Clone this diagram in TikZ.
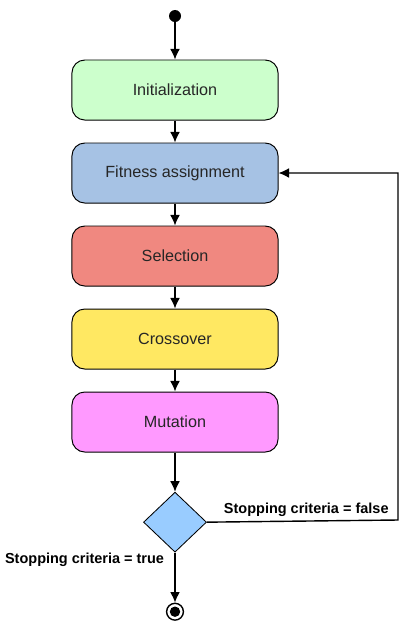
\documentclass[tikz,border=0pt]{standalone}
\usepackage{fontspec}
\setmainfont{Liberation Sans}
\usepackage{tikz}
\usetikzlibrary{positioning,shapes.geometric,arrows.meta}

\definecolor{initcol}{HTML}{CCFFCC}
\definecolor{fitcol}{HTML}{A6C2E4}
\definecolor{selcol}{HTML}{F08880}
\definecolor{crosscol}{HTML}{FFE862}
\definecolor{mutcol}{HTML}{FF99FF}
\definecolor{deccol}{HTML}{99CCFF}

\begin{document}
\begin{tikzpicture}[
    x=0.025cm, y=-0.025cm,
    node distance=0.55cm,
    every node/.style={font=\fontsize{11.5}{14}\selectfont},
    stage/.style={rectangle, draw, line width=0.7pt, rounded corners=0.32cm, minimum width=5.15cm, minimum height=1.5cm, align=center, text=black!85},
    decision/.style={diamond, draw, line width=0.6pt, fill=deccol, inner sep=0pt, minimum width=1.575cm, minimum height=1.5cm},
    arrow/.style={-{Latex[length=7.5pt,width=7pt]}, line width=1pt},
    crit/.style={font=\bfseries\fontsize{10.3}{12}\selectfont}
]
\useasboundingbox (0,0) rectangle (400,625);

%% ---- Start ----
\node[circle, fill=black, minimum size=0.3cm, inner sep=0pt] (start) at (175,16) {};

%% ---- Stages ----
\node[stage, fill=initcol] (init) at (175,90) {Initialization};
\node[stage, fill=fitcol, below=of init] (fit) {Fitness assignment};
\node[stage, fill=selcol, below=of fit] (sel) {Selection};
\node[stage, fill=crosscol, below=of sel] (cross) {Crossover};
\node[stage, fill=mutcol, below=of cross] (mut) {Mutation};

%% ---- Decision ----
\node[decision, below=0.98cm of mut] (dec) {};

%% ---- End ----
\node[circle, draw, line width=1pt, fill=white, minimum size=0.42cm, inner sep=0pt, below=1.25cm of dec] (stop) {};
\node[circle, fill=black, minimum size=0.26cm, inner sep=0pt] (stopin) at (stop) {};

%% ---- Arrows ----
\draw[arrow] (start) -- (init);
\draw[arrow] (init) -- (fit);
\draw[arrow] (fit) -- (sel);
\draw[arrow] (sel) -- (cross);
\draw[arrow] (cross) -- (mut);
\draw[arrow] (mut) -- (dec);
\draw[arrow] (dec) -- (stop);

%% ---- Loop back ----
\coordinate (back) at (398,520);
\draw[arrow] (dec.east) -- (back) |- (fit.east);

%% ---- Criteria labels ----
\node[crit, anchor=west] (falselbl) at (219,510) {Stopping criteria = false};
\node[crit, anchor=east] (truelbl) at (169,560) {Stopping criteria = true};

\end{tikzpicture}
\end{document}
